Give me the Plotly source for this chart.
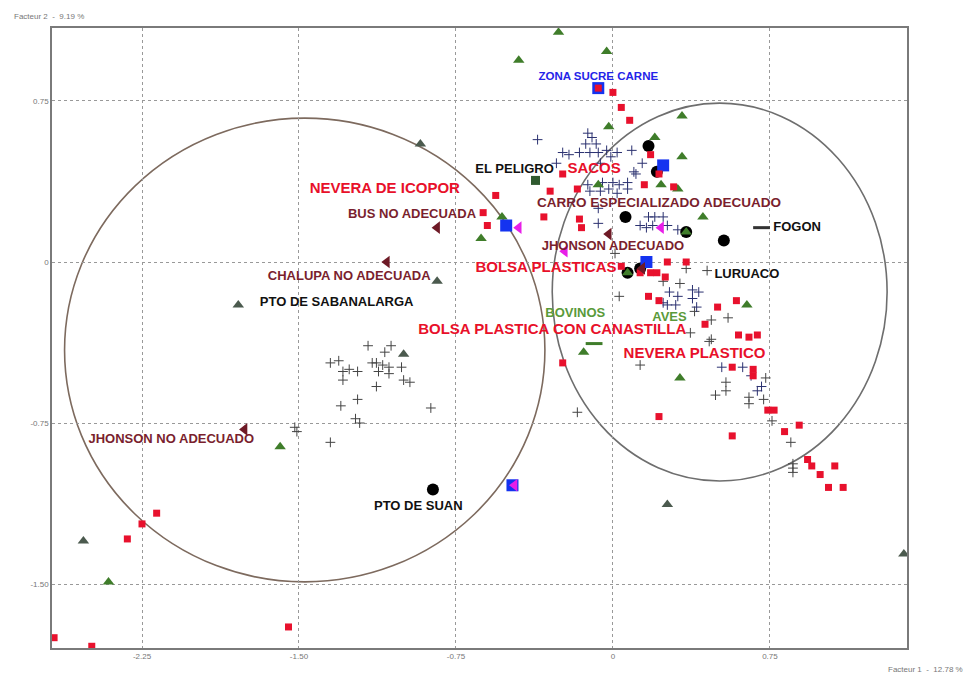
import plotly.graph_objects as go

# ---------------- data (factor coordinates) ----------------
red_x = [-0.07, 0.00, 0.04, 0.08, -0.24, -0.56, -0.62, -0.60, -0.30, -0.17, 0.18, 0.22, 0.15, 0.29,
         -0.33, -0.16, -0.15, 0.26, 0.35, 0.04, 0.13, 0.18, 0.21, 0.25, 0.17, 0.22, 0.59, 0.50, 0.44,
         0.60, 0.65, 0.69, 0.57, 0.67, 0.67, -0.24, 0.22, 0.57, 0.74, 0.77, 0.82, 0.89, 0.93, 0.95,
         1.06, 0.99, 1.03, 1.10, -2.18, -2.25, -2.32, -2.67, -2.49, -1.55]
red_y = [0.81, 0.79, 0.72, 0.66, 0.41, 0.31, 0.23, 0.17, 0.33, 0.34, 0.50, 0.41, 0.36, 0.35,
         0.21, 0.20, 0.16, 0.00, 0.00, -0.02, -0.05, -0.05, -0.05, -0.07, -0.16, -0.18, -0.18, -0.21, -0.29,
         -0.34, -0.35, -0.34, -0.49, -0.50, -0.53, -0.47, -0.72, -0.81, -0.69, -0.69, -0.79, -0.76, -0.92, -0.95,
         -0.95, -0.99, -1.05, -1.05, -1.17, -1.22, -1.29, -1.75, -1.79, -1.70]

green_x = [-0.26, -0.45, -0.03, -0.02, 0.33, 0.20, 0.33, 0.23, 0.31, -0.07, -0.63, -0.53, 0.43,
           0.07, 0.64, -0.14, 0.32, -1.59, -2.41, 0.35]
green_y = [1.07, 0.94, 0.98, 0.63, 0.68, 0.58, 0.49, 0.36, 0.34, 0.36, 0.11, 0.21, 0.21,
           -0.05, -0.20, -0.42, -0.54, -0.86, -1.49, 0.14]

dgray_tri_x = [-0.92, -0.84, -1.00, -1.79, -2.53, 0.26, 1.39]
dgray_tri_y = [0.55, -0.09, -0.43, -0.20, -1.30, -1.13, -1.36]

black_x = [0.17, 0.21, 0.06, 0.35, 0.53, 0.07, 0.13, -0.86]
black_y = [0.54, 0.42, 0.21, 0.14, 0.10, -0.05, -0.03, -1.06]

blue_x = [-0.07, 0.24, -0.51, 0.16, -0.48]
blue_y = [0.81, 0.45, 0.17, 0.00, -1.04]

magenta_x = [-0.45, 0.23, -0.23, -0.47]
magenta_y = [0.16, 0.16, 0.05, -1.04]

maroon_x = [-0.84, -1.08, -1.76, -0.02, 0.14]
maroon_y = [0.16, 0.00, -0.78, 0.13, -0.03]

dkgreen_sq_x = [-0.37]
dkgreen_sq_y = [0.38]

dash_x = [-0.09, 0.71]
dash_y = [-0.38, 0.16]

gray_plus_x = [-1.17, -1.06, -1.09, -1.35, -1.31, -1.15, -1.13, -1.10, -1.07, -1.01, -1.29, -1.26,
               -1.22, -1.12, -1.07, -1.29, -1.00, -0.97, -1.13, -1.22, -1.30, -0.87, -1.23, -1.21,
               -1.52, -1.51, -1.35,
               0.45, 0.35, 0.32, 0.03, 0.24, 0.47, 0.55, 0.39, 0.47, 0.13, 0.54, 0.49, 0.54, 0.65,
               0.73, 0.72, 0.65, 0.76, 0.85, 0.86, 0.86, 0.86, 0.37, 0.46, -0.17, 0.01]
gray_plus_y = [-0.39, -0.39, -0.42, -0.47, -0.46, -0.47, -0.47, -0.48, -0.49, -0.49, -0.51, -0.50,
               -0.51, -0.51, -0.52, -0.55, -0.55, -0.56, -0.58, -0.64, -0.67, -0.68, -0.73, -0.75,
               -0.77, -0.79, -0.84,
               -0.04, -0.03, -0.10, -0.16, -0.09, -0.27, -0.26, -0.23, -0.36, -0.48, -0.56, -0.62, -0.60, -0.63,
               -0.54, -0.64, -0.66, -0.74, -0.84, -0.94, -0.96, -0.98, -0.33, -0.37, -0.70, 0.04]

navy_plus_x = [-0.36, -0.12, -0.10, -0.08, -0.13, -0.24, -0.21, -0.16, -0.11, -0.07, -0.03, -0.01,
               0.02, 0.09, -0.06, 0.10, 0.14, 0.11, -0.27, -0.12, -0.05, 0.00, 0.03, 0.07, -0.11,
               -0.06, -0.02, 0.02, 0.07, 0.17, 0.20, 0.24, 0.13, 0.16, 0.19, 0.26, 0.31, -0.07, -0.07,
               0.27, 0.31, 0.24, 0.26, 0.30, 0.38, 0.41, 0.38, 0.40, 0.52, 0.62, 0.66, 0.71, 0.69]
navy_plus_y = [0.57, 0.60, 0.58, 0.55, 0.55, 0.51, 0.50, 0.51, 0.51, 0.51, 0.52, 0.49,
               0.51, 0.52, 0.46, 0.42, 0.46, 0.41, 0.46, 0.36, 0.37, 0.37, 0.36, 0.37, 0.33,
               0.33, 0.34, 0.32, 0.34, 0.21, 0.21, 0.21, 0.17, 0.16, 0.17, 0.17, 0.15, 0.25, 0.18,
               -0.14, -0.16, -0.19, -0.20, -0.20, -0.13, -0.14, -0.17, -0.21, -0.49, -0.49, -0.53, -0.58, -0.60]

label_text = ["ZONA SUCRE CARNE", "EL PELIGRO", "SACOS", "NEVERA DE ICOPOR", "BUS NO ADECUADA",
              "CHALUPA NO ADECUADA", "PTO DE SABANALARGA", "CARRO ESPECIALIZADO ADECUADO", "FOGON",
              "JHONSON ADECUADO", "BOLSA PLASTICAS", "LURUACO", "BOVINOS", "AVES",
              "BOLSA PLASTICA CON CANASTILLA", "NEVERA PLASTICO", "JHONSON NO ADECUADO", "PTO DE SUAN"]
label_x = [-0.07, -0.47, -0.09, -1.09, -0.96, -1.26, -1.32, 0.22, 0.88, 0.00, -0.32, 0.64, -0.18, 0.27,
           -0.29, 0.39, -2.11, -0.93]
label_y = [0.86, 0.43, 0.43, 0.34, 0.22, -0.07, -0.19, 0.27, 0.16, 0.07, -0.03, -0.06, -0.24, -0.26,
           -0.32, -0.43, -0.83, -1.14]
label_color = ["#2424e8", "#111111", "#e8102a", "#e8102a", "#7a1f2e",
               "#7a1f2e", "#111111", "#7a1f2e", "#111111",
               "#7a1f2e", "#e8102a", "#111111", "#5a9a3a", "#5a9a3a",
               "#e8102a", "#e8102a", "#7a1f2e", "#111111"]
label_size = [11.5, 13, 15, 15, 13, 13, 13, 13.5, 13, 13, 15, 13, 13, 13, 15, 15, 13, 13]

# circles (bounding boxes in factor units)
circle_left = [-2.62, -0.325, -1.49, 0.67]
circle_right = [-0.29, 1.31, -1.02, 0.74]

x_ticks = [-2.25, -1.50, -0.75, 0, 0.75]
x_tick_text = ["-2.25", "-1.50", "-0.75", "0", "0.75"]
y_ticks = [0.75, 0, -0.75, -1.50]
y_tick_text = ["0.75", "0", "-0.75", "-1.50"]

# ---------------- figure ----------------
fig = go.Figure()

fig.add_trace(go.Scatter(x=gray_plus_x, y=gray_plus_y, mode="markers",
                         marker=dict(symbol="cross-thin", size=7, line=dict(color="#444444", width=1))))
fig.add_trace(go.Scatter(x=navy_plus_x, y=navy_plus_y, mode="markers",
                         marker=dict(symbol="cross-thin", size=7, line=dict(color="#2b3170", width=1))))
fig.add_trace(go.Scatter(x=dgray_tri_x, y=dgray_tri_y, mode="markers",
                         marker=dict(symbol="triangle-up", size=10, color="#4b5a4e")))
fig.add_trace(go.Scatter(x=black_x, y=black_y, mode="markers",
                         marker=dict(symbol="circle", size=12, color="#000000")))
fig.add_trace(go.Scatter(x=green_x, y=green_y, mode="markers",
                         marker=dict(symbol="triangle-up", size=10, color="#3f7d2a")))
fig.add_trace(go.Scatter(x=dkgreen_sq_x, y=dkgreen_sq_y, mode="markers",
                         marker=dict(symbol="square", size=9, color="#2f5a2f")))
fig.add_trace(go.Scatter(x=blue_x, y=blue_y, mode="markers",
                         marker=dict(symbol="square", size=12, color="#1433f0")))
fig.add_trace(go.Scatter(x=red_x, y=red_y, mode="markers",
                         marker=dict(symbol="square", size=7, color="#e8112d")))
fig.add_trace(go.Scatter(x=magenta_x, y=magenta_y, mode="markers",
                         marker=dict(symbol="triangle-left", size=11, color="#e81ee8")))
fig.add_trace(go.Scatter(x=maroon_x, y=maroon_y, mode="markers",
                         marker=dict(symbol="triangle-left", size=11, color="#6e1a26")))
fig.add_trace(go.Scatter(x=dash_x, y=dash_y, mode="markers",
                         marker=dict(symbol="line-ew", size=12,
                                     line=dict(color=["#3f7d2a", "#333333"], width=3))))
fig.add_trace(go.Scatter(x=label_x, y=label_y, mode="text", text=["<b>%s</b>" % t for t in label_text],
                         textposition="middle center",
                         textfont=dict(family="Liberation Sans, Arial, sans-serif",
                                       color=label_color, size=label_size)))

fig.add_shape(type="circle", xref="x", yref="y",
              x0=circle_left[0], x1=circle_left[1], y0=circle_left[2], y1=circle_left[3],
              line=dict(color="#7d6a5e", width=1.6), layer="below")
fig.add_shape(type="circle", xref="x", yref="y",
              x0=circle_right[0], x1=circle_right[1], y0=circle_right[2], y1=circle_right[3],
              line=dict(color="#6e6e6e", width=1.6), layer="below")

axis_common = dict(showgrid=True, gridcolor="#999999", griddash="dot", gridwidth=1,
                   zeroline=False, showline=True, mirror=True, linecolor="#7a7a7a", linewidth=1.5,
                   ticks="", tickfont=dict(family="Liberation Sans, Arial, sans-serif", size=8, color="#777777"))

fig.update_xaxes(range=[-2.68, 1.405], tickvals=x_ticks, ticktext=x_tick_text, **axis_common)
fig.update_yaxes(range=[-1.798, 1.09], tickvals=y_ticks, ticktext=y_tick_text, **axis_common)

fig.add_annotation(xref="paper", yref="paper", x=-0.047, y=1.019, xanchor="left", yanchor="middle",
                   text="Facteur 2  -  9.19 %", showarrow=False,
                   font=dict(family="Liberation Sans, Arial, sans-serif", size=8, color="#777777"))
fig.add_annotation(xref="paper", yref="paper", x=1.068, y=-0.035, xanchor="right", yanchor="middle",
                   text="Facteur 1  -  12.78 %", showarrow=False,
                   font=dict(family="Liberation Sans, Arial, sans-serif", size=8, color="#777777"))

# the page adds an 8px body margin, so margins are reduced accordingly
fig.update_layout(width=971, height=675, showlegend=False,
                  margin=dict(l=44, r=72, t=20, b=35),
                  plot_bgcolor="white", paper_bgcolor="white")

fig.write_html("out.html")
